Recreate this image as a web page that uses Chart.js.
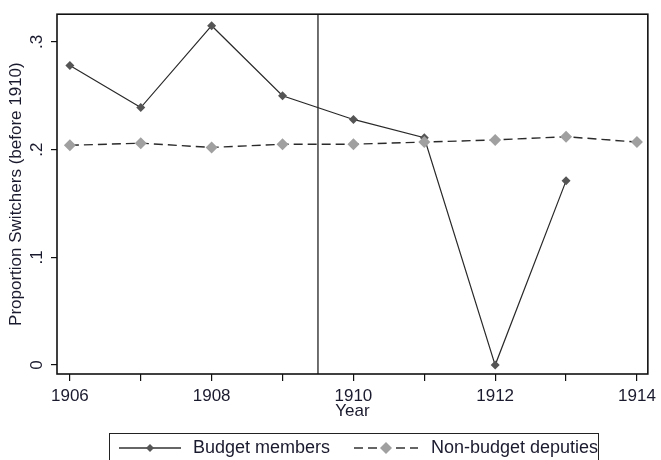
<!DOCTYPE html>
<html>
<head>
<meta charset="utf-8">
<script src="https://cdn.jsdelivr.net/npm/chart.js@4/dist/chart.umd.min.js"></script>
<style>
  html, body { margin: 0; padding: 0; background: #fff; }
  #wrap { position: relative; width: 661px; height: 460px; overflow: hidden; font-family: "Liberation Sans", Arial, sans-serif; }
  #c { position: absolute; left: 0; top: 0; }
  #legend { position: absolute; left: 109px; top: 433px; width: 490px; height: 40px; border: 1.5px solid #222; box-sizing: border-box; }
  .lt { position: absolute; top: 3px; font-size: 18px; line-height: 20px; color: #1a1a2e; white-space: nowrap; }
  .ls { position: absolute; top: 0; }
</style>
</head>
<body>
<div id="wrap">
  <canvas id="c" width="661" height="460"></canvas>
  <div id="legend"></div>
</div>
<script>
// ---- data ----
const years = [1906, 1907, 1908, 1909, 1910, 1911, 1912, 1913, 1914];
const budgetMembers = [0.278, 0.239, 0.315, 0.250, 0.228, 0.211, 0.000, 0.171, null];
const nonBudgetDeputies = [0.204, 0.206, 0.202, 0.205, 0.205, 0.207, 0.209, 0.212, 0.207];
const seriesNames = ["Budget members", "Non-budget deputies"];
const yTickValues = [0, 0.1, 0.2, 0.3];
const yTickLabels = ["0", ".1", ".2", ".3"];
const xTickLabels = ["1906", "", "1908", "", "1910", "", "1912", "", "1914"];
const referenceYear = 1909.5;
const yTitle = "Proportion Switchers (before 1910)";
const xTitle = "Year";

const Y_MIN = -0.0083, Y_MAX = 0.3257;
const X_MIN = 1905.818, X_MAX = 1914.154;

const toPts = (arr) => years.map((yr, i) => ({ x: yr, y: arr[i] })).filter(p => p.y !== null);

const FONT = "'Liberation Sans', Arial, sans-serif";
const TEXT = '#1a1a2e';
const FS = 17;

const framePlugin = {
  id: 'frame',
  afterDatasetsDraw(chart) {
    const { ctx, chartArea: a } = chart;
    ctx.save();
    ctx.strokeStyle = '#111';
    ctx.lineWidth = 1.6;
    ctx.strokeRect(a.left, a.top, a.right - a.left, a.bottom - a.top);
    ctx.restore();
  },
  afterDraw(chart) {
    const { ctx } = chart;
    const ys = chart.scales.y;
    ctx.save();
    ctx.fillStyle = TEXT;
    ctx.font = FS + 'px ' + FONT;
    ctx.textAlign = 'center';
    ctx.textBaseline = 'middle';
    yTickValues.forEach((v, i) => {
      const py = ys.getPixelForValue(v);
      ctx.save();
      ctx.translate(37, py);
      ctx.rotate(-Math.PI / 2);
      ctx.fillText(yTickLabels[i], 0, 0);
      ctx.restore();
    });
    ctx.restore();
  }
};

new Chart(document.getElementById('c'), {
  type: 'line',
  data: {
    datasets: [
      {
        label: seriesNames[0],
        data: toPts(budgetMembers),
        borderColor: '#2a2a2a',
        borderWidth: 1.2,
        pointStyle: 'rectRot',
        pointRadius: 4.5,
        pointBackgroundColor: '#555',
        pointBorderColor: '#555',
        pointBorderWidth: 0,
        tension: 0,
        order: 2
      },
      {
        label: seriesNames[1],
        data: toPts(nonBudgetDeputies),
        borderColor: '#2a2a2a',
        borderWidth: 1.4,
        borderDash: [9, 5],
        pointStyle: 'rectRot',
        pointRadius: 6,
        pointBackgroundColor: '#a0a0a0',
        pointBorderColor: '#a0a0a0',
        pointBorderWidth: 0,
        tension: 0,
        order: 1
      },
      {
        label: 'ref',
        data: [{ x: referenceYear, y: Y_MIN }, { x: referenceYear, y: Y_MAX }],
        borderColor: '#222',
        borderWidth: 1.3,
        pointRadius: 0,
        order: 3
      }
    ]
  },
  options: {
    responsive: false,
    animation: false,
    events: [],
    layout: { padding: { left: 0, right: 9, top: 11, bottom: 0 } },
    plugins: { legend: { display: false }, tooltip: { enabled: false } },
    scales: {
      x: {
        type: 'linear',
        min: X_MIN, max: X_MAX,
        afterFit(s) { s.height = 86; },
        afterBuildTicks(s) { s.ticks = years.map(v => ({ value: v })); },
        border: { display: false },
        grid: { drawOnChartArea: false, drawTicks: true, tickLength: 7, color: '#111', lineWidth: 1.2 },
        ticks: {
          autoSkip: false, maxRotation: 0, minRotation: 0, padding: 5,
          color: TEXT, font: { family: FONT, size: FS },
          callback(v) { const i = years.indexOf(v); return i >= 0 ? xTickLabels[i] : ''; }
        },
        title: { display: true, text: xTitle, color: TEXT, font: { family: FONT, size: FS }, padding: { top: 0, bottom: 38 } }
      },
      y: {
        type: 'linear',
        min: Y_MIN, max: Y_MAX,
        afterFit(s) { s.width = 57; },
        afterBuildTicks(s) { s.ticks = yTickValues.map(v => ({ value: v })); },
        border: { display: false },
        grid: { drawOnChartArea: false, drawTicks: true, tickLength: 6, color: '#111', lineWidth: 1.2 },
        ticks: { color: 'rgba(0,0,0,0)', font: { family: FONT, size: FS }, padding: 4 },
        title: { display: true, text: yTitle, color: TEXT, font: { family: FONT, size: FS }, padding: { top: 6, bottom: 0 } }
      }
    }
  },
  plugins: [framePlugin]
});

// ---- legend (HTML, real text) ----
const lg = document.getElementById('legend');
const L = 109;
function sample(x0, x1, dash, r, color) {
  const w = x1 - x0 + 16;
  const cx = (x1 - x0) / 2 + 8;
  return `<svg class="ls" style="left:${x0 - L - 8}px" width="${w}" height="32">
    <line x1="8" y1="14" x2="${w - 8}" y2="14" stroke="#333" stroke-width="1.3" ${dash ? 'stroke-dasharray="9 5"' : ''}/>
    <polygon points="${cx},${14 - r} ${cx + r},14 ${cx},${14 + r} ${cx - r},14" fill="${color}"/>
  </svg>`;
}
lg.innerHTML =
  sample(118, 180, false, 4, '#555') +
  `<span class="lt" style="left:${192 - L}px">${seriesNames[0]}</span>` +
  sample(353, 417, true, 6, '#a0a0a0') +
  `<span class="lt" style="left:${430 - L}px">${seriesNames[1]}</span>`;
</script>
</body>
</html>
